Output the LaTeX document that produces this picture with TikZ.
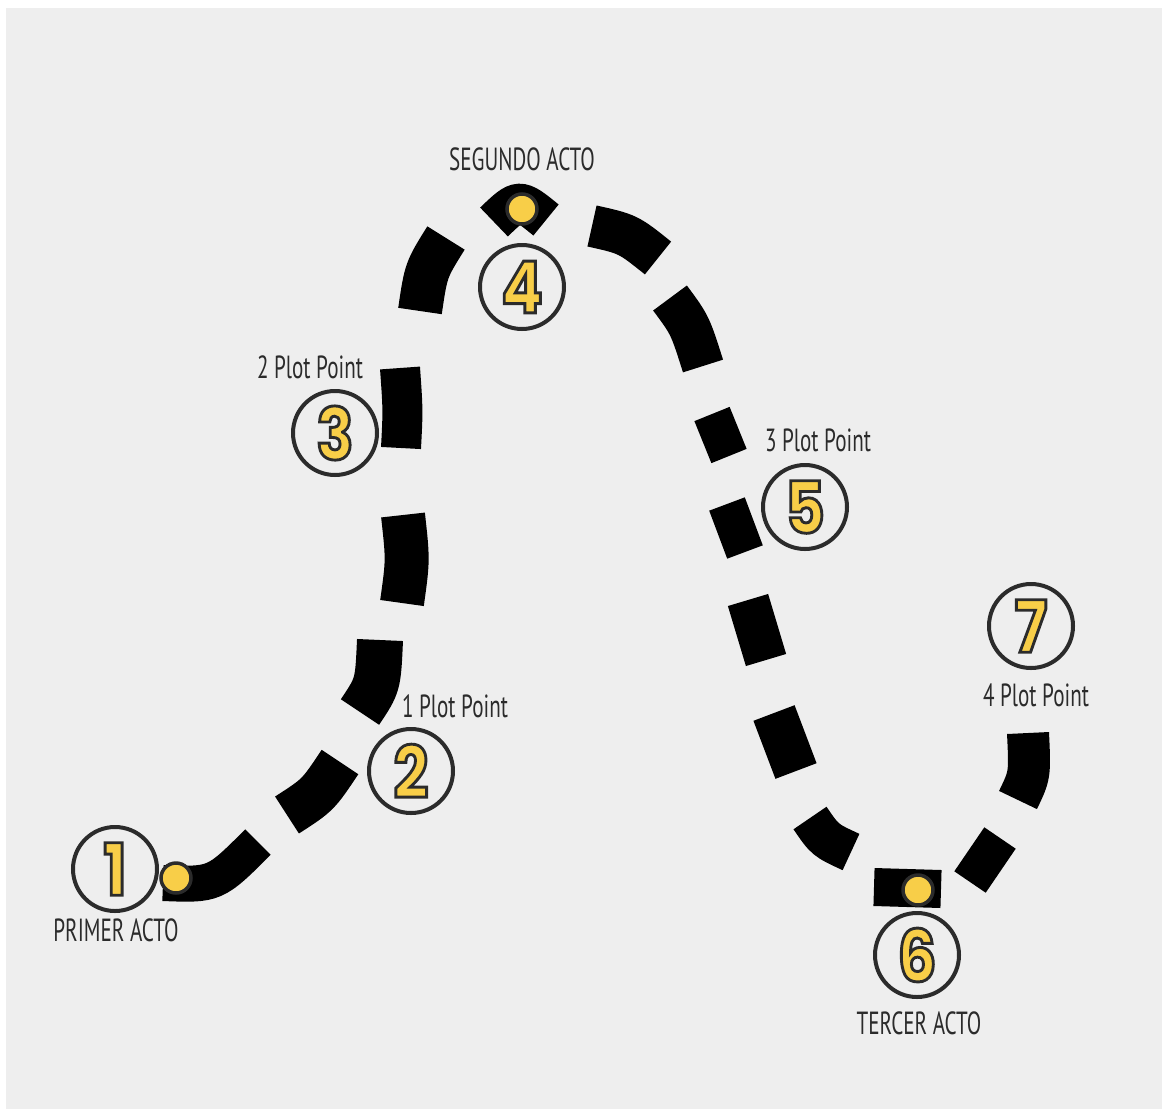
\documentclass[tikz,border=0pt]{standalone}
\usepackage{fontspec}
\newfontfamily\digitfont{Poppins}[FakeStretch=0.85,FakeBold=4]
\newfontfamily\labelfont{PT Sans}[FakeStretch=0.66]
\definecolor{bg}{HTML}{EEEEEE}
\definecolor{ink}{HTML}{2B2B2B}
\definecolor{sun}{HTML}{F8CE48}
\newcommand\inkstroke{\special{pdf:literal direct 0.17 0.17 0.17 RG}}
\tikzset{
  stroke/.style={line width=#1, draw=black, line cap=butt},
  stroke/.default=44pt,
  ring/.style={circle, draw=ink, line width=4pt, fill=bg, minimum size=84pt, inner sep=0pt},
  digit/.style={font=\digitfont\bfseries\fontsize{72}{72}\selectfont, text=sun, inner sep=0pt},
  dot/.style={circle, fill=sun, draw=ink, line width=3.5pt, minimum size=30pt, inner sep=0pt},
  lab/.style={font=\labelfont\fontsize{32}{32}\selectfont, text=ink, inner sep=0pt}
}
\newcommand\plotnum[3]{% name, position, digit
  \node[ring] (#1) at #2 {};
  \node[digit] (#1n) at (#1.center) {\inkstroke#3};
}
\begin{document}
\begin{tikzpicture}[x=1pt,y=-1pt]
\useasboundingbox (0,0) rectangle (1164,1109);
\fill[white] (0,0) rectangle (1164,1109);
\fill[bg] (6,8) rectangle (1162,1109);

% dashed brush path
\draw[stroke=36pt] (163,883) .. controls (215,885) .. (258,842);
\draw[stroke] (287,815) .. controls (318,795) .. (340,762);
\draw[stroke=46pt] (360,712) .. controls (378,685) .. (380,640);
\draw[stroke] (402,603) .. controls (408,560) .. (403,515);
\draw[stroke=40pt] (401,448) .. controls (403,410) .. (400,368);
\draw[stroke] (420,311) .. controls (426,270) .. (446,238);
\draw[stroke=40pt] (494,222) .. controls (519,198) .. (546,220);
\draw[stroke=42pt] (592,226) .. controls (628,234) .. (658,258);
\draw[stroke=42pt] (670,298) .. controls (690,325) .. (703,366);
\draw[stroke=38pt] (712,414) -- (729,456);
\draw[stroke=38pt] (727,504) -- (745,552);
\draw[stroke=42pt] (748,600) -- (766,660);
\draw[stroke] (774,713) -- (796,771);
\draw[stroke=40pt] (810,818) .. controls (825,840) .. (851,852);
\draw[stroke=38pt] (874,887) -- (941,889);
\draw[stroke=38pt] (970,882) -- (1000,838);
\draw[stroke=42pt] (1018,800) .. controls (1030,775) .. (1028,733);

% dots
\node[dot] (d1) at (176,878) {};
\node[dot] (d4) at (522,209) {};
\node[dot] (d6) at (918,890) {};

% numbered circles
\plotnum{c1}{(115,869)}{1}
\plotnum{c2}{(411,771)}{2}
\plotnum{c3}{(335,433)}{3}
\plotnum{c4}{(522,287)}{4}
\plotnum{c5}{(805,507)}{5}
\plotnum{c6}{(917,955)}{6}
\plotnum{c7}{(1031,626)}{7}

% labels
\node[lab] (l1) at (116,930) {PRIMER ACTO};
\node[lab] (l4) at (522,159) {SEGUNDO ACTO};
\node[lab] (l3) at (310,367) {2 Plot Point};
\node[lab] (l2) at (455,706) {1 Plot Point};
\node[lab] (l5) at (818,440) {3 Plot Point};
\node[lab] (l7) at (1036,695) {4 Plot Point};
\node[lab] (l6) at (919,1023) {TERCER ACTO};
\end{tikzpicture}
\end{document}
